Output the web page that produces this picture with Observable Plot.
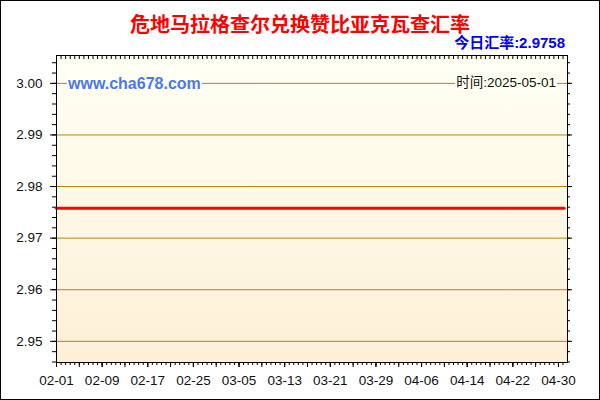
<!DOCTYPE html>
<html><head><meta charset="utf-8">
<script src="https://cdn.jsdelivr.net/npm/d3@7"></script>
<script src="https://cdn.jsdelivr.net/npm/@observablehq/plot@0.6"></script>
<style>
body{margin:0;background:#fff;}
#wrap{position:relative;width:600px;height:400px;overflow:hidden;font-family:"Liberation Sans",Arial,sans-serif;}
#border{position:absolute;left:0;top:0;width:600px;height:400px;box-sizing:border-box;border:1px solid #000;pointer-events:none;}
.t{position:absolute;white-space:nowrap;line-height:1;}
svg{display:block;}
</style></head><body><div id="wrap"></div>
<script>
const title = "危地马拉格查尔兑换赞比亚克瓦查汇率";
const todayLabel = "今日汇率:2.9758";
const siteLabel = "www.cha678.com";
const timeLabel = "时间:2025-05-01";
const dates = ["2025-02-01", "2025-05-01"];
const rates = [2.9758, 2.9758];
const xTickLabels = ["02-01","02-09","02-17","02-25","03-05","03-13","03-21","03-29","04-06","04-14","04-22","04-30"];
const yTicks = [2.95, 2.96, 2.97, 2.98, 2.99, 3.00];
const yDomain = [2.9459, 3.0054];
const xDomain = ["2025-02-01T00:00:00Z", "2025-05-01T14:00:00Z"];

const data = dates.map((d, i) => ({date: new Date(d + "T00:00:00Z"), rate: rates[i]}));
const xLabelDates = xTickLabels.map(s => new Date("2025-" + s + "T00:00:00Z"));
const t0 = new Date(xDomain[0]).getTime(), t1 = new Date(xDomain[1]).getTime();
const day = 86400000;
const xMinor = d3.range(t0, t1, 0.8 * day).map(t => new Date(t));
const xMid = d3.range(t0, t1, 4 * day).map(t => new Date(t));
const yMinor = d3.range(2.946, 3.0055, 0.002).map(v => +v.toFixed(3));

function gradientDefs() {
  const defs = d3.create("svg:defs");
  const lg = defs.append("linearGradient").attr("id", "bg").attr("x1", 0).attr("y1", 0).attr("x2", 0).attr("y2", 1);
  lg.append("stop").attr("offset", "0%").attr("stop-color", "#fffff4");
  lg.append("stop").attr("offset", "100%").attr("stop-color", "#fdf0d6");
  return defs.node();
}

const chart = Plot.plot({
  width: 600,
  height: 400,
  marginLeft: 56,
  marginRight: 33,
  marginTop: 55,
  marginBottom: 38,
  style: {fontFamily: "'Liberation Sans', Arial, sans-serif", fontSize: "13.5px", color: "#111", background: "transparent"},
  x: {type: "utc", domain: xDomain.map(d => new Date(d))},
  y: {domain: yDomain},
  marks: [
    gradientDefs,
    Plot.frame({fill: "url(#bg)", stroke: null}),
    Plot.gridY(yTicks, {stroke: "#b8860b", strokeOpacity: 1, strokeWidth: 1}),
    Plot.line(data, {x: "date", y: "rate", stroke: "#ff0000", strokeWidth: 3}),
    Plot.frame({stroke: "#000", strokeWidth: 1}),
    Plot.axisY(yTicks, {anchor: "left", tickSize: 6, tickPadding: 8, tickFormat: ".2f", fontSize: 13.5, stroke: "#000", fill: "#111", label: null}),
    Plot.axisY(yMinor, {anchor: "left", tickSize: 4, text: null, stroke: "#000", label: null}),
    Plot.axisY(yTicks, {anchor: "right", tickSize: 4, text: null, stroke: "#000", label: null}),
    Plot.axisY(yMinor, {anchor: "right", tickSize: 2, text: null, stroke: "#000", label: null}),
    Plot.axisX(xLabelDates, {anchor: "bottom", tickSize: 5, tickPadding: 8, tickFormat: d3.utcFormat("%m-%d"), fontSize: 13.5, stroke: "#000", fill: "#111", label: null}),
    Plot.axisX(xMid, {anchor: "bottom", tickSize: 5, text: null, stroke: "#000", label: null}),
    Plot.axisX(xMinor, {anchor: "bottom", tickSize: 3, text: null, stroke: "#000", label: null}),
    Plot.axisX(xMinor, {anchor: "top", tickSize: -3, text: null, stroke: "#000", label: null})
  ]
});

const wrap = document.getElementById("wrap");
wrap.appendChild(chart);

function addText(txt, style) {
  const el = document.createElement("div");
  el.className = "t";
  el.textContent = txt;
  Object.assign(el.style, style);
  wrap.appendChild(el);
}
addText(title, {left: "0px", width: "600px", textAlign: "center", top: "14px", fontFamily: "'Noto Sans CJK SC', sans-serif", fontWeight: "bold", fontSize: "20px", color: "#ff0000"});
addText(todayLabel, {right: "35px", top: "35px", fontFamily: "'Liberation Sans', 'Noto Sans CJK SC', sans-serif", fontWeight: "bold", fontSize: "15px", color: "#0000ff"});
addText(siteLabel, {left: "67px", top: "75px", fontFamily: "'Liberation Sans', Arial, sans-serif", fontWeight: "bold", fontSize: "16px", color: "#4a78f0", background: "#fffff3", padding: "1px 1px"});
addText(timeLabel, {right: "43px", top: "75px", fontFamily: "'Liberation Sans', 'Noto Sans CJK SC', sans-serif", fontSize: "13.5px", color: "#111", background: "#fffff3", padding: "1px 1px"});

const b = document.createElement("div");
b.id = "border";
wrap.appendChild(b);
</script></body></html>
